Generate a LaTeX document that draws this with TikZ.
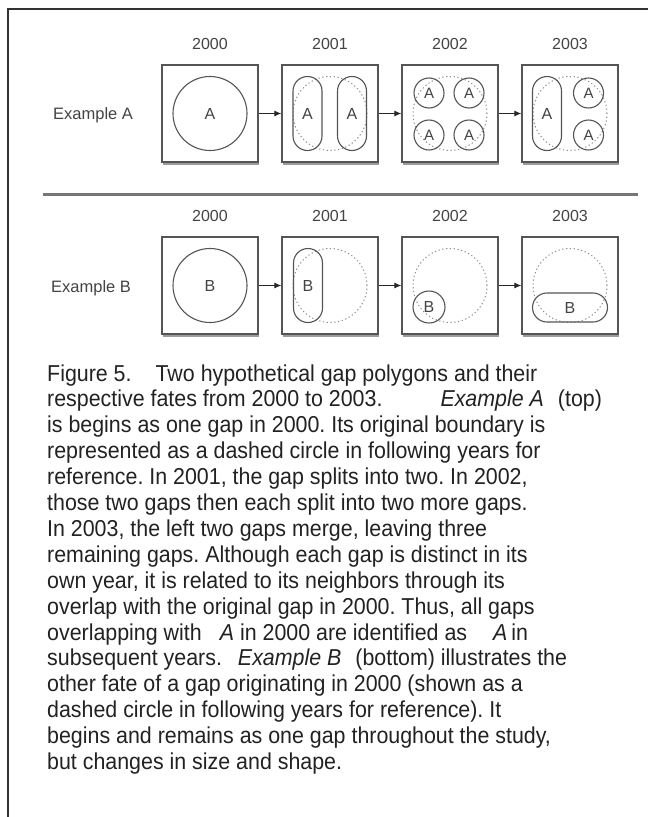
\documentclass[tikz,border=0pt]{standalone}
\usepackage{fontspec}
\setmainfont{Liberation Sans}
\newfontfamily\capfont[FakeStretch=0.93]{Liberation Sans}
\usetikzlibrary{arrows.meta,calc,shadows}
\definecolor{edge}{HTML}{555555}
\definecolor{txt}{HTML}{444444}
\definecolor{dotc}{HTML}{8A8A8A}
\definecolor{framec}{HTML}{333333}
\definecolor{capc}{HTML}{222222}
\definecolor{sepc}{HTML}{777777}
\frenchspacing
\begin{document}
\begin{tikzpicture}[x=1pt,y=-1pt,
  yearbox/.style={draw=edge, line width=1.4pt, fill=white, minimum width=96pt, minimum height=97pt, inner sep=0pt,
    drop shadow={shadow xshift=1pt, shadow yshift=-2.5pt, fill=black!70, opacity=0.55}},
  gapc/.style={circle, draw=edge, line width=1.1pt, inner sep=0pt, text=txt, font=\fontsize{16}{16}\selectfont},
  stadium/.style={rectangle, draw=edge, line width=1.1pt, rounded corners=14.5pt, inner sep=0pt, text=txt,
    font=\fontsize{16}{16}\selectfont},
  oldgap/.style={circle, draw=dotc, line width=1pt, dash pattern=on 1.2pt off 2.6pt, minimum size=74pt, inner sep=0pt},
  year/.style={text=txt, font=\fontsize{16}{16}\selectfont, inner sep=0pt},
  rowlbl/.style={text=txt, font=\fontsize{16.5}{16}\selectfont, inner sep=0pt, anchor=west},
  flow/.style={draw=black!85, line width=0.9pt, -{Latex[length=7pt,width=6pt]}},
  capline/.style={anchor=base west, inner sep=0pt, text=capc, font=\capfont\fontsize{23}{26}\selectfont}
]
\useasboundingbox (0,0) rectangle (648,817);
\fill[white] (0,0) rectangle (648,817);
% frame
\draw[framec, line width=2pt] (7.5,817) -- (7.5,9) -- (648,9);

% ---------- Example A ----------
\node[year] (ya1) at (210,43.5) {2000};
\node[year] (ya2) at (330,43.5) {2001};
\node[year] (ya3) at (450,43.5) {2002};
\node[year] (ya4) at (570,43.5) {2003};
\node[rowlbl] (la) at (53,115) {Example A};

\node[yearbox] (a1) at (210,113.5) {};
\node[yearbox] (a2) at (330,113.5) {};
\node[yearbox] (a3) at (450,113.5) {};
\node[yearbox] (a4) at (570,113.5) {};
\draw[flow] (a1) -- (a2);
\draw[flow] (a2) -- (a3);
\draw[flow] (a3) -- (a4);

\node[gapc, minimum size=74pt] (a1g) at (a1) {A};

\node[oldgap] (a2o) at (a2) {};
\node[stadium, minimum width=29pt, minimum height=74pt] (a2l) at ($(a2)+(-22.5,0)$) {A};
\node[stadium, minimum width=29pt, minimum height=74pt] (a2r) at ($(a2)+(22,0)$) {A};

\node[oldgap] (a3o) at (a3) {};
\node[gapc, minimum size=30pt, font=\fontsize{15}{15}\selectfont] (a3a) at ($(a3)+(-21,-20.5)$) {A};
\node[gapc, minimum size=30pt, font=\fontsize{15}{15}\selectfont] (a3b) at ($(a3)+(19,-20.5)$) {A};
\node[gapc, minimum size=30pt, font=\fontsize{15}{15}\selectfont] (a3c) at ($(a3)+(-21,21.5)$) {A};
\node[gapc, minimum size=30pt, font=\fontsize{15}{15}\selectfont] (a3d) at ($(a3)+(19,21.5)$) {A};

\node[oldgap] (a4o) at (a4) {};
\node[stadium, minimum width=29pt, minimum height=74pt] (a4l) at ($(a4)+(-23,0)$) {A};
\node[gapc, minimum size=30pt, font=\fontsize{15}{15}\selectfont] (a4b) at ($(a4)+(18.5,-20.5)$) {A};
\node[gapc, minimum size=30pt, font=\fontsize{15}{15}\selectfont] (a4d) at ($(a4)+(18.5,21.5)$) {A};

% separator
\draw[sepc, line width=3pt] (43,194) -- (638,194);

% ---------- Example B ----------
\node[year] (yb1) at (210,216) {2000};
\node[year] (yb2) at (330,216) {2001};
\node[year] (yb3) at (450,216) {2002};
\node[year] (yb4) at (570,216) {2003};
\node[rowlbl] (lb) at (51,288) {Example B};

\node[yearbox] (b1) at (210,285.5) {};
\node[yearbox] (b2) at (330,285.5) {};
\node[yearbox] (b3) at (450,285.5) {};
\node[yearbox] (b4) at (570,285.5) {};
\draw[flow] (b1) -- (b2);
\draw[flow] (b2) -- (b3);
\draw[flow] (b3) -- (b4);

\node[gapc, minimum size=74pt] (b1g) at (b1) {B};

\node[oldgap] (b2o) at (b2) {};
\node[stadium, minimum width=29pt, minimum height=74pt] (b2l) at ($(b2)+(-22,0)$) {B};

\node[oldgap] (b3o) at (b3) {};
\node[gapc, minimum size=32pt] (b3s) at ($(b3)+(-21,21.5)$) {B};

\node[oldgap] (b4o) at (b4) {};
\node[stadium, minimum width=75pt, minimum height=29pt] (b4s) at ($(b4)+(0,22)$) {B};

% ---------- caption ----------
\node[capline] (c1) at (47,381) {Figure 5.\hspace{24pt}Two hypothetical gap polygons and their};
\node[capline] (c2) at (47,406.9) {respective fates from 2000 to 2003.\hspace{58pt}\itshape Example A\upshape\hspace{14pt}(top)};
\node[capline] (c3) at (47,432.8) {is begins as one gap in 2000. Its original boundary is};
\node[capline] (c4) at (47,458.7) {represented as a dashed circle in following years for};
\node[capline] (c5) at (47,484.6) {reference. In 2001, the gap splits into two. In 2002,};
\node[capline] (c6) at (47,510.5) {those two gaps then each split into two more gaps.};
\node[capline] (c7) at (47,536.4) {In 2003, the left two gaps merge, leaving three};
\node[capline] (c8) at (47,562.3) {remaining gaps. Although each gap is distinct in its};
\node[capline] (c9) at (47,588.2) {own year, it is related to its neighbors through its};
\node[capline] (c10) at (47,614.1) {overlap with the original gap in 2000. Thus, all gaps};
\node[capline] (c11) at (47,640) {overlapping with\hspace{18pt}\itshape A\upshape\hspace{6pt}in 2000 are identified as\hspace{26pt}\itshape A\upshape\hspace{4pt}in};
\node[capline] (c12) at (47,665.9) {subsequent years.\hspace{16pt}\itshape Example B\upshape\hspace{14pt}(bottom) illustrates the};
\node[capline] (c13) at (47,691.8) {other fate of a gap originating in 2000 (shown as a};
\node[capline] (c14) at (47,717.7) {dashed circle in following years for reference). It};
\node[capline] (c15) at (47,743.6) {begins and remains as one gap throughout the study,};
\node[capline] (c16) at (47,769.5) {but changes in size and shape.};
\end{tikzpicture}
\end{document}
